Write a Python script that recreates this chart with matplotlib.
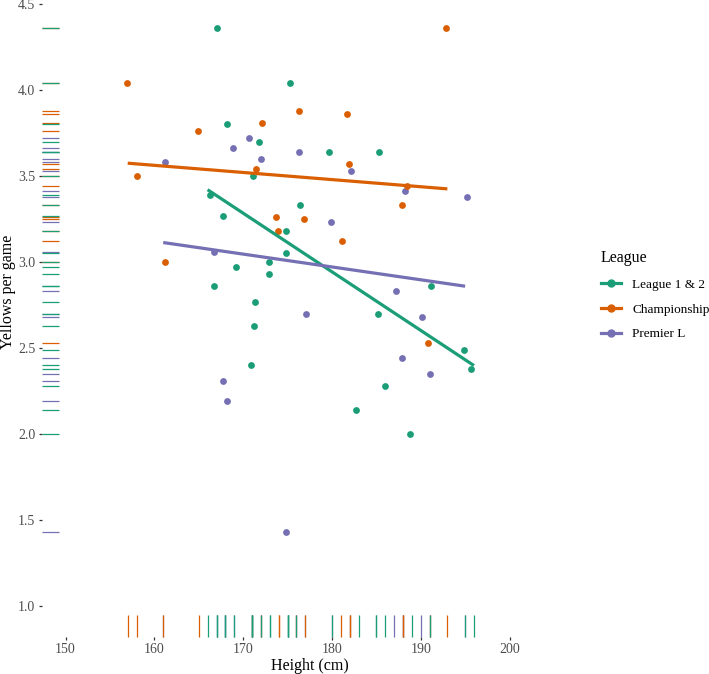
import numpy as np
import matplotlib
matplotlib.use("Agg")
import matplotlib.pyplot as plt
from matplotlib.lines import Line2D
import matplotlib.transforms as mtransforms

plt.rcParams['font.family'] = ['Liberation Serif', 'DejaVu Serif']

# ---- data ----
leagues = ["League 1 & 2", "Championship", "Premier L"]
colors = ["#1B9E77", "#D95F02", "#7570B3"]

# jittered point positions (height in cm) and yellows per game
green_x = [167.07, 175.3, 168.2, 171.8, 171.1, 166.3, 167.7, 176.4, 179.7, 185.3,
           174.8, 174.84, 172.96, 169.24, 172.9, 166.7, 171.3, 171.27, 170.93,
           191.2, 185.24, 194.9, 195.65, 186.0, 182.7, 188.8]
green_y = [4.36, 4.04, 3.80, 3.70, 3.50, 3.39, 3.27, 3.33, 3.64, 3.64,
           3.18, 3.05, 3.00, 2.97, 2.93, 2.86, 2.77, 2.63, 2.40,
           2.86, 2.70, 2.49, 2.38, 2.28, 2.14, 2.00]

orange_x = [156.9, 176.3, 172.1, 164.96, 171.4, 158.1, 173.7, 176.8, 173.97,
            161.17, 192.9, 181.75, 181.9, 188.4, 187.9, 181.1, 190.8]
orange_y = [4.04, 3.88, 3.81, 3.76, 3.54, 3.50, 3.26, 3.25, 3.18,
            3.00, 4.36, 3.86, 3.57, 3.44, 3.33, 3.12, 2.53]

purple_x = [170.7, 168.9, 172.06, 176.3, 161.25, 182.1, 188.25, 195.2, 179.9,
            166.7, 177.1, 167.7, 168.2, 187.2, 190.1, 187.9, 191.1, 174.8]
purple_y = [3.72, 3.66, 3.60, 3.64, 3.58, 3.53, 3.41, 3.38, 3.23,
            3.06, 2.70, 2.31, 2.19, 2.83, 2.68, 2.44, 2.35, 1.43]

xs = [green_x, orange_x, purple_x]
ys = [green_y, orange_y, purple_y]

x_ticks = [150, 160, 170, 180, 190, 200]
y_ticks = [1.0, 1.5, 2.0, 2.5, 3.0, 3.5, 4.0, 4.5]

# ---- figure ----
W, H = 709, 674
fig = plt.figure(figsize=(W / 100, H / 100), dpi=100)
L_px, R_px, B_px, T_px = 41.5, 531.7, 637.0, -26.0
ax = fig.add_axes([L_px / W, (H - B_px) / H, (R_px - L_px) / W, (B_px - T_px) / H])
ax.set_xlim(147.29, 202.5)
ax.set_ylim(0.8198, 4.674)
for s in ax.spines.values():
    s.set_visible(False)

# rugs (drawn Premier L, Championship, League 1 & 2 so green ends on top)
tx = mtransforms.blended_transform_factory(ax.transData, ax.transAxes)
ty = mtransforms.blended_transform_factory(ax.transAxes, ax.transData)
for i in [2, 1, 0]:
    heights = np.round(np.array(xs[i]))
    for h in heights:
        ax.plot([h, h], [0, 0.033], transform=tx, color=colors[i], lw=0.9,
                solid_capstyle='butt', clip_on=False)
    for v in ys[i]:
        ax.plot([0, 0.035], [v, v], transform=ty, color=colors[i], lw=0.9,
                solid_capstyle='butt', clip_on=False)

# points
for i in [2, 1, 0]:
    ax.scatter(xs[i], ys[i], s=24, color=colors[i], linewidths=0, zorder=3)

# linear fits on (unjittered) heights
for i in [0, 1, 2]:
    hx = np.round(np.array(xs[i]))
    b, a = np.polyfit(hx, ys[i], 1)
    xx = np.array([hx.min(), hx.max()])
    ax.plot(xx, a + b * xx, color=colors[i], lw=2.3, zorder=4,
            solid_capstyle='butt')

ax.set_xticks(x_ticks)
ax.set_xticklabels([str(t) for t in x_ticks])
ax.set_yticks(y_ticks)
ax.set_yticklabels([f"{t:.1f}" for t in y_ticks])
ax.tick_params(axis='both', length=2.5, width=0.9, color='#333333',
               labelcolor='#4D4D4D', labelsize=10, pad=2)

fig.text(310 / W, 1 - 665.5 / H, "Height (cm)", ha='center', va='center',
         fontsize=11.5, color='black')
fig.text(8 / W, 1 - 292 / H, "Yellows per game", ha='center', va='center',
         rotation=90, fontsize=11.5, color='black')

handles = [Line2D([], [], color=c, lw=2.3, marker='o', markersize=5) for c in colors]
leg = fig.legend(handles, leagues, title="League", loc='upper left',
                 bbox_to_anchor=(601 / W, 1 - 250 / H), frameon=False,
                 fontsize=9.5, title_fontsize=11.5, handlelength=1.5,
                 handletextpad=0.85, labelspacing=0.95, borderpad=0,
                 borderaxespad=0, alignment='left')
leg._legend_box.sep = 9

fig.savefig("out.png", dpi=100)
